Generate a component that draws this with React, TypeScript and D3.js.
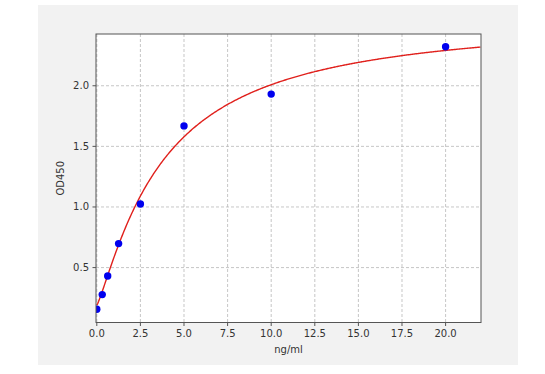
import React from "react";
import * as d3 from "d3";

const concentrations = [0, 0.3125, 0.625, 1.25, 2.5, 5, 10, 20];
const odValues = [0.156, 0.277, 0.431, 0.698, 1.025, 1.669, 1.931, 2.322];
// 4PL fit parameters of the drawn curve: bottom, top, ec50, hill
const fitBottom = 0.19;
const fitTop = 2.578;
const fitEC50 = 3.8;
const fitHill = 1.2;
const xTicks = [0, 2.5, 5, 7.5, 10, 12.5, 15, 17.5, 20];
const yTicks = [0.5, 1.0, 1.5, 2.0];
const xLabel = "ng/ml";
const yLabel = "OD450";

const W = 545;
const H = 374;
const plot = { left: 96, right: 481, top: 34, bottom: 322.5 };

export default function App() {
  const x = d3.scaleLinear().domain([0, 22.03]).range([plot.left + 0.8, plot.right]);
  const y = d3.scaleLinear().domain([0.047, 2.427]).range([plot.bottom, plot.top]);
  const f = (c: number) =>
    fitTop + (fitBottom - fitTop) / (1 + Math.pow(c / fitEC50, fitHill));
  const xs = d3.range(0, 22.03 + 1e-9, 0.05);
  const line = d3
    .line<number>()
    .x((d) => x(d))
    .y((d) => y(f(d)));
  const font = "DejaVu Sans, sans-serif";
  return (
    <svg
      width={W}
      height={H}
      style={{ position: "absolute", left: 0, top: 0, background: "#ffffff" }}
    >
      <rect x={38} y={5} width={480} height={360} fill="#f2f2f2" />
      <rect
        x={plot.left}
        y={plot.top}
        width={plot.right - plot.left}
        height={plot.bottom - plot.top}
        fill="#ffffff"
      />
      <g stroke="#b8b8b8" strokeWidth={0.8} strokeDasharray="3,2">
        {xTicks.map((t) => (
          <line key={"gx" + t} x1={x(t)} x2={x(t)} y1={plot.top} y2={plot.bottom} />
        ))}
        {yTicks.map((t) => (
          <line key={"gy" + t} x1={plot.left} x2={plot.right} y1={y(t)} y2={y(t)} />
        ))}
      </g>
      <clipPath id="clip">
        <rect
          x={plot.left}
          y={plot.top}
          width={plot.right - plot.left}
          height={plot.bottom - plot.top}
        />
      </clipPath>
      <path
        d={line(xs) || ""}
        fill="none"
        stroke="#e0201c"
        strokeWidth={1.4}
        clipPath="url(#clip)"
      />
      <g fill="#0000ee" clipPath="url(#clip)">
        {concentrations.map((c, i) => (
          <circle key={i} cx={x(c)} cy={y(odValues[i])} r={3.7} />
        ))}
      </g>
      <rect
        x={plot.left}
        y={plot.top}
        width={plot.right - plot.left}
        height={plot.bottom - plot.top}
        fill="none"
        stroke="#555555"
        strokeWidth={1}
      />
      <g fontFamily={font} fontSize={10} fill="#333333">
        {xTicks.map((t) => (
          <g key={"tx" + t}>
            <line x1={x(t)} x2={x(t)} y1={plot.bottom} y2={plot.bottom + 3.5} stroke="#555555" />
            <text x={x(t)} y={plot.bottom + 14.5} textAnchor="middle">
              {t.toFixed(1)}
            </text>
          </g>
        ))}
        {yTicks.map((t) => (
          <g key={"ty" + t}>
            <line x1={plot.left - 3.5} x2={plot.left} y1={y(t)} y2={y(t)} stroke="#555555" />
            <text x={plot.left - 7} y={y(t) + 3.5} textAnchor="end">
              {t.toFixed(1)}
            </text>
          </g>
        ))}
        <text x={(plot.left + plot.right) / 2} y={353} textAnchor="middle">
          {xLabel}
        </text>
        <text
          transform={`translate(64, ${(plot.top + plot.bottom) / 2}) rotate(-90)`}
          textAnchor="middle"
        >
          {yLabel}
        </text>
      </g>
    </svg>
  );
}
